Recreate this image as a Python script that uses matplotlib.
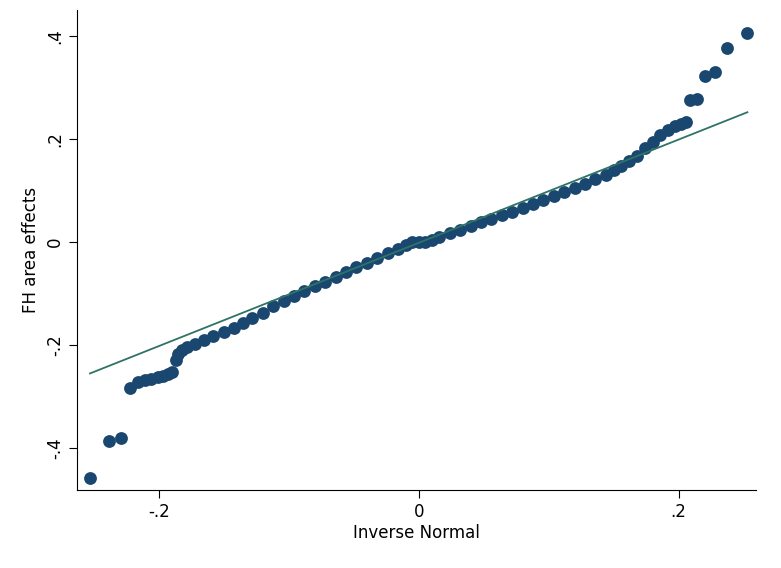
import matplotlib
matplotlib.use("Agg")
import matplotlib.pyplot as plt

x_vals = [-0.253,-0.238,-0.229,-0.222,-0.216,-0.211,-0.206,-0.201,-0.197,-0.193,-0.190,
          -0.187,-0.185,-0.182,-0.178,-0.172,-0.165,-0.158,-0.150,-0.142,-0.135,-0.128,
          -0.120,-0.112,-0.104,-0.096,-0.088,-0.080,-0.072,-0.064,-0.056,-0.048,-0.040,
          -0.032,-0.024,-0.016,-0.010,-0.005,0.000,0.005,0.010,0.016,0.024,0.032,0.040,
          0.048,0.056,0.064,0.072,0.080,0.088,0.096,0.104,0.112,0.120,0.128,0.136,0.144,
          0.150,0.156,0.162,0.168,0.174,0.180,0.186,0.192,0.197,0.202,0.206,
          0.209,0.214,0.220,0.228,0.237,0.253]
y_vals = [-0.458,-0.386,-0.381,-0.283,-0.272,-0.268,-0.266,-0.262,-0.259,-0.256,-0.253,
          -0.228,-0.218,-0.210,-0.204,-0.198,-0.190,-0.183,-0.175,-0.166,-0.158,-0.148,
          -0.138,-0.125,-0.114,-0.104,-0.095,-0.086,-0.077,-0.068,-0.058,-0.049,-0.040,
          -0.031,-0.022,-0.013,-0.005,0.000,0.000,0.000,0.004,0.010,0.017,0.024,0.031,
          0.038,0.045,0.052,0.059,0.066,0.074,0.082,0.090,0.097,0.104,0.113,0.122,0.131,
          0.139,0.148,0.158,0.168,0.182,0.195,0.207,0.218,0.226,0.230,0.234,
          0.275,0.278,0.322,0.331,0.377,0.405]
line_x = [-0.253, 0.253]
line_y = [-0.255, 0.252]

fig = plt.figure(figsize=(7.81, 5.68), dpi=100)
ax = fig.add_axes([0.0986, 0.137, 0.870, 0.845])
ax.scatter(x_vals, y_vals, s=85, color="#1a476f", zorder=2, linewidths=0)
ax.plot(line_x, line_y, color="#2e7366", lw=1.3, zorder=3)
ax.set_xlim(-0.263, 0.260)
ax.set_ylim(-0.4816, 0.45)
ax.set_xticks([-0.2, 0, 0.2])
ax.set_xticklabels(["-.2", "0", ".2"], fontsize=12)
ax.set_yticks([-0.4, -0.2, 0, 0.2, 0.4])
ax.set_yticklabels(["-.4", "-.2", "0", ".2", ".4"], fontsize=12, rotation=90, va="center")
ax.set_xlabel("Inverse Normal", fontsize=12, labelpad=2)
ax.set_ylabel("FH area effects", fontsize=12, labelpad=4)
for s in ["top", "right"]:
    ax.spines[s].set_visible(False)
ax.tick_params(length=6)
fig.savefig("out.png", dpi=100)
